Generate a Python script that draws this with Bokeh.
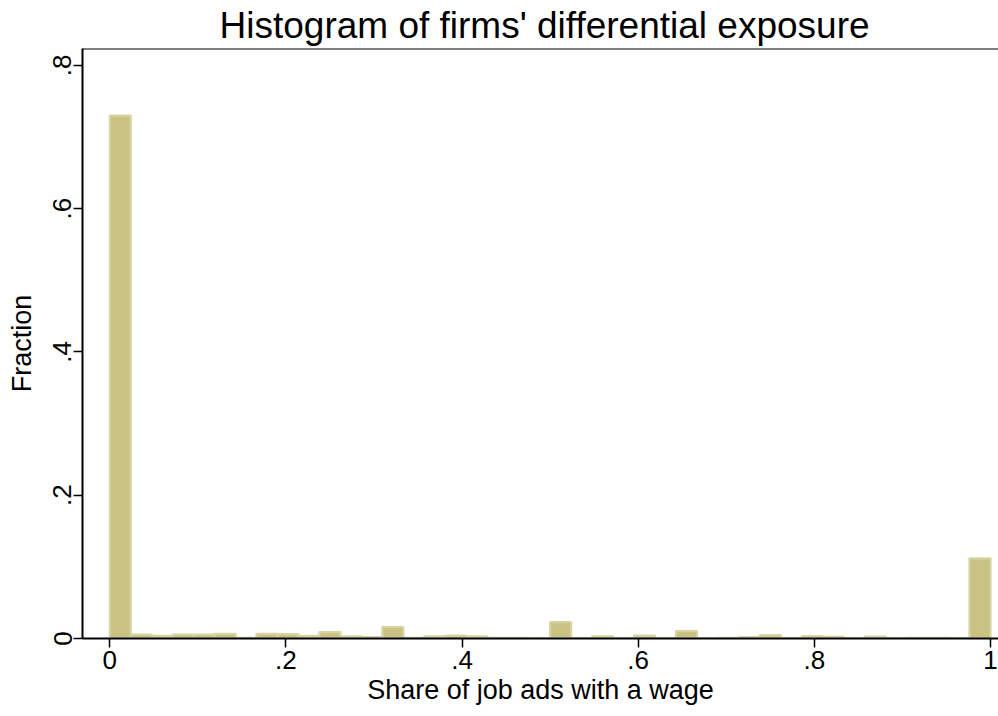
import numpy as np
from bokeh.plotting import figure
from bokeh.models import FixedTicker, Range1d, Span, ColumnDataSource
from bokeh.embed import file_html
from bokeh.resources import INLINE

# ---- data ----
n_bins = 42
fractions = [0.730, 0.0056, 0.0037, 0.0056, 0.0056, 0.0065, 0.0010, 0.0065,
             0.0060, 0.0037, 0.0090, 0.0030, 0.0020, 0.0160, 0.0010, 0.0030,
             0.0042, 0.0030, 0.0010, 0.0010, 0.0005, 0.0230, 0.0005, 0.0030,
             0.0005, 0.0040, 0.0005, 0.0105, 0.0005, 0.0010, 0.0020, 0.0047,
             0.0005, 0.0033, 0.0023, 0.0005, 0.0028, 0.0005, 0.0010, 0.0010,
             0.0005, 0.1120]
x_ticks = [0, 0.2, 0.4, 0.6, 0.8, 1.0]
x_tick_labels = ["0", ".2", ".4", ".6", ".8", "1"]
y_ticks = [0, 0.2, 0.4, 0.6, 0.8]
y_tick_labels = ["0", ".2", ".4", ".6", ".8"]
title_text = "Histogram of firms' differential exposure"
x_label = "Share of job ads with a wage"
y_label = "Fraction"

edges = np.linspace(0, 1, n_bins + 1)
src = ColumnDataSource(dict(left=edges[:-1], right=edges[1:],
                            top=fractions, bottom=[0] * n_bins))

FONT = "Liberation Sans"
W, H = 998, 716
ML, MR, MT, MB = 82, 0, 48, 78
Y_END = 0.8237

p = figure(width=W, height=H, output_backend="svg", toolbar_location=None,
           x_range=Range1d(-0.031, 1.0091), y_range=Range1d(0, Y_END),
           min_border_left=ML, min_border_right=MR, min_border_top=MT,
           min_border_bottom=MB)
p.outline_line_color = None
p.background_fill_color = "white"
p.border_fill_color = "white"
p.grid.visible = False

p.title.text = title_text
p.title.text_font = FONT
p.title.text_font_size = "37px"
p.title.text_font_style = "normal"
p.title.text_color = "black"
p.title.align = "left"
p.title.offset = 137
p.title.standoff = 5

p.quad(left="left", right="right", top="top", bottom="bottom", source=src,
       fill_color="#C9C283", line_color="#D8D3A2", line_width=2.2)

# top frame line
p.add_layout(Span(location=Y_END, dimension="width", line_color="black",
                  line_width=2))

for ax, ticks, labels in ((p.xaxis[0], x_ticks, x_tick_labels),
                          (p.yaxis[0], y_ticks, y_tick_labels)):
    ax.ticker = FixedTicker(ticks=ticks)
    ax.major_label_overrides = {t: l for t, l in zip(ticks, labels)}
    ax.minor_tick_line_color = None
    ax.axis_line_color = "black"
    ax.axis_line_width = 2
    ax.major_tick_line_color = "black"
    ax.major_tick_line_width = 1.5
    ax.major_tick_out = 9
    ax.major_tick_in = 0
    ax.major_label_text_font = FONT
    ax.major_label_text_font_size = "26px"
    ax.major_label_text_color = "black"
    ax.axis_label_text_font = FONT
    ax.axis_label_text_font_size = "27px"
    ax.axis_label_text_font_style = "normal"
    ax.axis_label_text_color = "black"

p.xaxis[0].axis_label = x_label
p.xaxis[0].major_label_standoff = 3
p.xaxis[0].axis_label_standoff = 3
p.yaxis[0].axis_label = y_label
p.yaxis[0].major_label_orientation = "vertical"
p.yaxis[0].major_label_standoff = 2
p.yaxis[0].axis_label_standoff = 14

open("out.html", "w").write(file_html(p, INLINE))
